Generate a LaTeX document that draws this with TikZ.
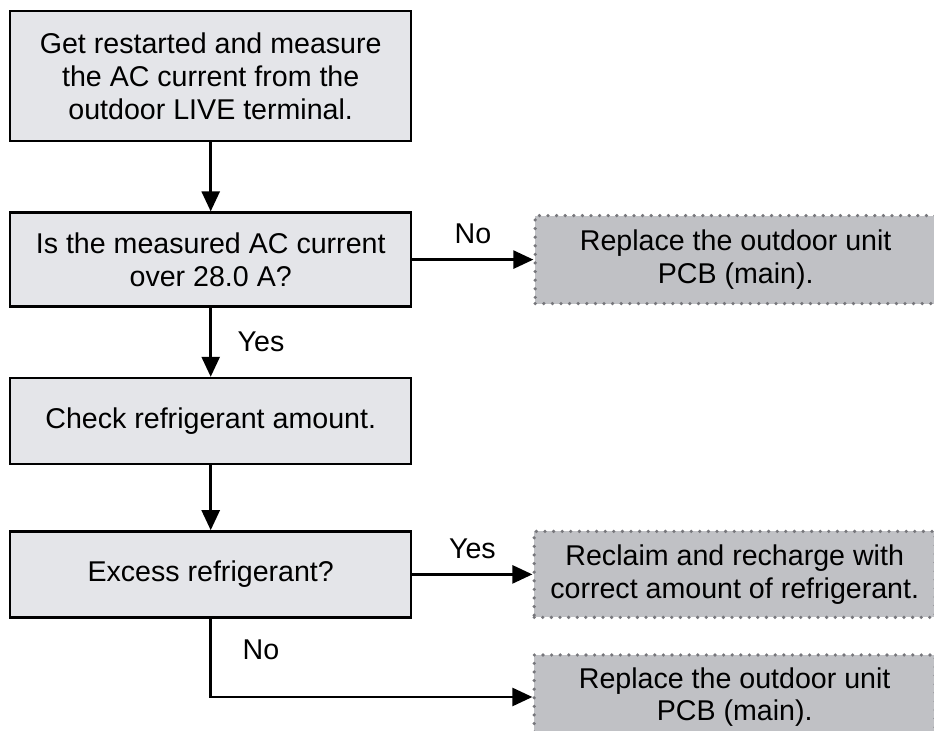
\documentclass[tikz,border=0pt]{standalone}
\usepackage{fontspec}
\setmainfont{Liberation Sans}
\usepackage{xcolor}
\usetikzlibrary{arrows.meta, positioning}

\definecolor{stepfill}{RGB}{228,229,233}
\definecolor{endfill}{RGB}{192,193,197}
\definecolor{dotgray}{RGB}{118,118,123}

\begin{document}
\begin{tikzpicture}[
  x=0.5pt, y=-0.5pt,
  every node/.style={font=\fontsize{14.3}{16.3}\selectfont},
  stepbox/.style={draw, line width=1.2pt, fill=stepfill, align=center, minimum width=200.5pt, inner sep=3pt},
  endbox/.style={draw=dotgray, line width=1.8pt, dash pattern=on 0pt off 4.3pt, line cap=round, fill=endfill, align=center, minimum width=200.5pt, inner sep=3pt},
  arr/.style={-{Triangle[length=10pt, width=9pt]}, line width=1.3pt},
]
 \useasboundingbox (0,0) rectangle (934,731);

 % ---- Main column ----
 \node[stepbox, minimum height=65pt, anchor=north west] (start) at (9,10) {Get restarted and measure\\the AC current from the\\outdoor LIVE terminal.};
 \node[stepbox, minimum height=47pt, below=34.5pt of start] (current) {Is the measured AC current\\over 28.0 A?};
 \node[stepbox, minimum height=43pt, below=34.5pt of current] (check) {Check refrigerant amount.};
 \node[stepbox, minimum height=43pt, below=32.5pt of check] (excess) {Excess refrigerant?};

 % ---- Right column: end actions ----
 \node[endbox, minimum height=44pt, right=60.5pt of current] (pcbA) {Replace the outdoor unit\\PCB (main).};
 \node[endbox, minimum height=43pt, right=60pt of excess] (recharge) {Reclaim and recharge with\\correct amount of refrigerant.};
 \node[endbox, minimum height=42pt, below=17pt of recharge] (pcbB) {Replace the outdoor unit\\PCB (main).};

 \draw[arr] (start) -- (current);
 \draw[arr] (current) -- node[right=9.5pt, midway]{Yes} (check);
 \draw[arr] (check) -- (excess);
 \draw[arr] (current.east) -- node[above=4pt, midway]{No} (pcbA.west);
 \draw[arr] (excess.east) -- node[above=4pt, midway]{Yes} (recharge.west);
 \draw[arr] (excess.south) |- node[right=12pt, pos=0.2]{No} (pcbB.west);

\end{tikzpicture}
\end{document}
